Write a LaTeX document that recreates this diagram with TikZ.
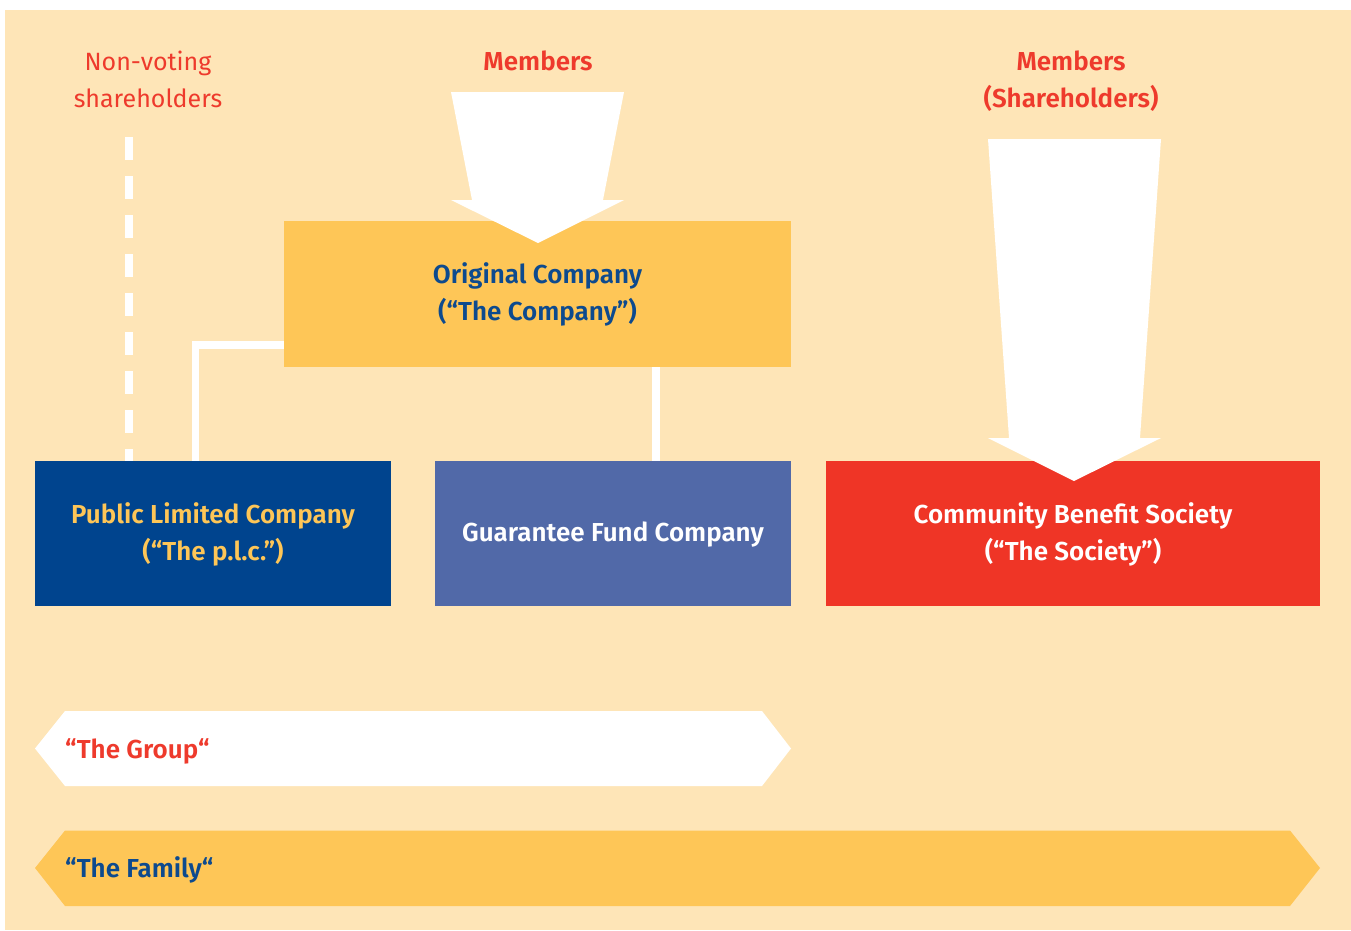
\documentclass[tikz,border=0pt]{standalone}
\usepackage{fontspec}
\setmainfont{Fira Sans}[BoldFont={Fira Sans SemiBold}]
\usetikzlibrary{calc}
\definecolor{peach}{HTML}{FEE5B7}
\definecolor{gold}{HTML}{FEC657}
\definecolor{navy}{HTML}{00448E}
\definecolor{slate}{HTML}{5169A8}
\definecolor{redbox}{HTML}{EF3526}
\definecolor{redtxt}{HTML}{EE3A2C}
\definecolor{bluetxt}{HTML}{0D4A8E}
\tikzset{
  box/.style={inner sep=0pt, outer sep=0pt, align=center, text depth=4pt, font=\fontsize{26}{37}\selectfont\bfseries},
  conn/.style={draw=white, line width=7.5pt},
  lbl/.style={inner sep=0pt, align=center, font=\fontsize{26}{37}\selectfont\bfseries, text=redtxt},
  banner/.style={inner sep=0pt, anchor=west, yshift=-2pt, font=\fontsize{26}{37}\selectfont\bfseries},
}
\begin{document}
\begin{tikzpicture}[x=1pt,y=-1pt]
\useasboundingbox (0,0) rectangle (1351,930);
\fill[white] (0,0) rectangle (1351,930);
\fill[peach] (5,10) rectangle (1351,930);

% boxes
\node[box, fill=gold, text=bluetxt, minimum width=507pt, minimum height=146pt] (orig) at (537.5,294) {Original Company\\(“The Company”)};
\node[box, fill=navy, text=gold, minimum width=356pt, minimum height=145pt] (plc) at (213,533.5) {Public Limited Company\\(“The p.l.c.”)};
\node[box, fill=slate, text=white, minimum width=356pt, minimum height=145pt] (gfc) at (613,533.5) {Guarantee Fund Company};
\node[box, fill=redbox, text=white, minimum width=494pt, minimum height=145pt] (cbs) at (1073,533.5) {Community Benefit Society\\(“The Society”)};

% labels
\node[lbl, font=\fontsize{25}{37}\selectfont] (nv) at (148,79.5) {Non-voting\\shareholders};
\node[lbl] (mem) at (538,61) {Members};
\node[lbl] (memsh) at (1071,81) {Members\\(Shareholders)};

% connectors
\coordinate (j1) at (195.5,345);
\draw[conn] (orig.west |- j1) -| (plc.north -| j1);
\coordinate (j2) at (656,367);
\draw[conn] (orig.south -| j2) -- (gfc.north -| j2);
\coordinate (d1) at (129,137);
\draw[draw=white, line width=8pt, dash pattern=on 23pt off 16pt] (d1) -- (plc.north -| d1);

% big arrows
\fill[white] (451,92) -- (624,92) -- (603,200) -- (624,200) -- (538,243) -- (451,200) -- (472,200) -- cycle;
\fill[white] (988,139) -- (1161,139) -- (1140,438) -- (1161,438) -- (1074,481) -- (988,438) -- (1009,438) -- cycle;

% banners
\fill[white] (35,748.5) -- (65,711) -- (762,711) -- (791,748.5) -- (762,786) -- (65,786) -- cycle;
\node[banner, text=redtxt] (grp) at (65,749) {“The Group“};
\fill[gold] (35,868) -- (65,830.5) -- (1290,830.5) -- (1320,868) -- (1290,906) -- (65,906) -- cycle;
\node[banner, text=bluetxt] (fam) at (65,868) {“The Family“};
\end{tikzpicture}
\end{document}
